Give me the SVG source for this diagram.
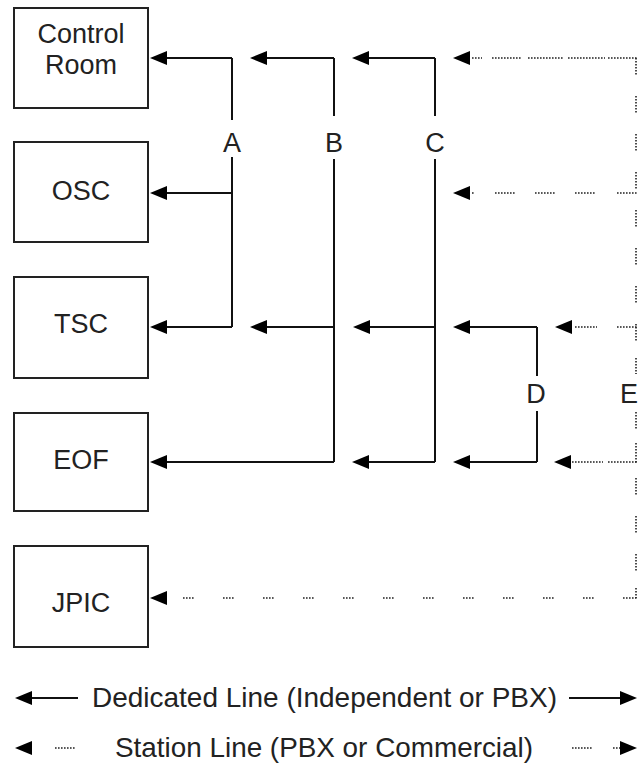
<svg xmlns="http://www.w3.org/2000/svg" xmlns:xlink="http://www.w3.org/1999/xlink" width="639" height="767" viewBox="0 0 639 767">
<style>
.box{fill:#fff;stroke:#222;stroke-width:2}
.t{font-family:"Liberation Sans",Arial,sans-serif;font-size:27px;fill:#222;text-anchor:middle}
.lg{font-family:"Liberation Sans",Arial,sans-serif;font-size:28px;fill:#222}
.solid{fill:none;stroke:#111;stroke-width:2}
.dot{fill:none;stroke:#222;stroke-width:1.6;stroke-dasharray:1.6 1.4}
.ah{fill:#000}
</style>
<defs>
<path id="ah" d="M0,0 L17,-7 L17,7 Z"/>
<path id="ahr" d="M0,0 L-17,-7 L-17,7 Z"/>
</defs>
<rect width="639" height="767" fill="#fff"/>
<g id="control-room"><rect class="box" x="14" y="8" width="134" height="100"/><text class="t" x="81" y="43">Control</text><text class="t" x="81" y="74">Room</text></g>
<g id="osc"><rect class="box" x="14" y="142" width="134" height="100"/><text class="t" x="81" y="200">OSC</text></g>
<g id="tsc"><rect class="box" x="14" y="277" width="134" height="101"/><text class="t" x="81" y="333">TSC</text></g>
<g id="eof"><rect class="box" x="14" y="413" width="134" height="98"/><text class="t" x="81" y="469">EOF</text></g>
<g id="jpic"><rect class="box" x="14" y="546" width="134" height="101"/><text class="t" x="81" y="612">JPIC</text></g>
<g id="connectors">
<path class="solid" d="M232,58 V120 M232,157 V327 M232,58 H158 M232,193 H158 M232,327 H158"/>
<path class="solid" d="M334,58 V116 M334,159 V462 M334,58 H258 M334,327 H258 M334,462 H158"/>
<path class="solid" d="M435,58 V116 M435,159 V462 M435,58 H360 M435,327 H361 M435,462 H360"/>
<path class="solid" d="M537,327 V376 M537,411 V462 M537,327 H461 M537,462 H461"/>
<path class="dot" d="M472,58 H482 M492,58 H522 M528,58 H563 M568,58 H605 M608,58 H637"/>
<path class="dot" d="M472,193 H475 M495,193 H515 M535,193 H555 M575,193 H595 M617,193 H637"/>
<path class="dot" d="M575,327 H597 M617,327 H637"/>
<path class="dot" d="M572,462 H603 M608,462 H637"/>
<path class="dot" d="M183,598 H195 M223,598 H235 M263,598 H275 M303,598 H315 M343,598 H355 M383,598 H395 M423,598 H435 M463,598 H475 M503,598 H515 M543,598 H555 M583,598 H595 M623,598 H637"/>
<path class="dot" d="M636,58 V76 M636,96 V114 M636,134 V152 M636,172 V190 M636,210 V228 M636,248 V266 M636,286 V304 M636,324 V342 M636,358 V374 M636,412 V430 M636,443 V463 M636,478 V496 M636,516 V534 M636,554 V572 M636,588 V598"/>
<g class="ah">
<use xlink:href="#ah" x="150" y="58"/><use xlink:href="#ah" x="250" y="58"/><use xlink:href="#ah" x="352" y="58"/><use xlink:href="#ah" x="453" y="58"/>
<use xlink:href="#ah" x="150" y="193"/><use xlink:href="#ah" x="453" y="193"/>
<use xlink:href="#ah" x="150" y="327"/><use xlink:href="#ah" x="250" y="327"/><use xlink:href="#ah" x="353" y="327"/><use xlink:href="#ah" x="453" y="327"/><use xlink:href="#ah" x="555" y="327"/>
<use xlink:href="#ah" x="150" y="462"/><use xlink:href="#ah" x="352" y="462"/><use xlink:href="#ah" x="453" y="462"/><use xlink:href="#ah" x="554" y="462"/>
<use xlink:href="#ah" x="150" y="598"/>
</g>
</g>
<g id="labels">
<text class="t" x="232" y="152">A</text>
<text class="t" x="334" y="152">B</text>
<text class="t" x="435" y="152">C</text>
<text class="t" x="536" y="403">D</text>
<text class="t" x="629" y="403">E</text>
</g>
<g id="legend">
<path class="solid" d="M24,698 H78 M569,698 H628"/>
<use class="ah" xlink:href="#ah" x="15" y="698"/><use class="ah" xlink:href="#ahr" x="637" y="698"/>
<text class="lg" x="92" y="707" textLength="465" lengthAdjust="spacingAndGlyphs">Dedicated Line (Independent or PBX)</text>
<path class="dot" d="M55,748 H75 M572,748 H592 M613,748 H620"/>
<use class="ah" xlink:href="#ah" x="15" y="748"/><use class="ah" xlink:href="#ahr" x="637" y="748"/>
<text class="lg" x="115" y="757" textLength="418" lengthAdjust="spacingAndGlyphs">Station Line (PBX or Commercial)</text>
</g>
</svg>
